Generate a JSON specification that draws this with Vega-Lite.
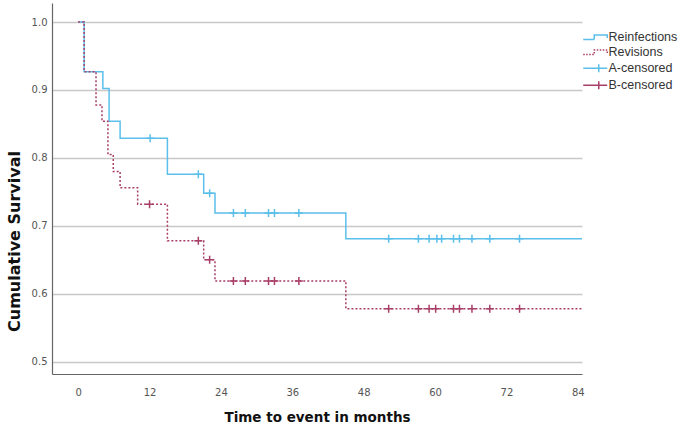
{
  "$schema": "https://vega.github.io/schema/vega-lite/v6.json",
  "width": 530,
  "height": 371,
  "autosize": {"type": "none"},
  "padding": {"left": 52, "top": 3, "right": 103, "bottom": 55},
  "background": "white",
  "config": {"view": {"stroke": null}},
  "datasets": {
    "lines": [
      {"key": "Reinfections", "month": 0, "surv": 1.0},
      {"key": "Reinfections", "month": 1, "surv": 0.927},
      {"key": "Reinfections", "month": 4.15, "surv": 0.902},
      {"key": "Reinfections", "month": 5.2, "surv": 0.854},
      {"key": "Reinfections", "month": 7.05, "surv": 0.829},
      {"key": "Reinfections", "month": 15.0, "surv": 0.776},
      {"key": "Reinfections", "month": 21.1, "surv": 0.748},
      {"key": "Reinfections", "month": 23.0, "surv": 0.719},
      {"key": "Reinfections", "month": 45.0, "surv": 0.681},
      {"key": "Reinfections", "month": 84.7, "surv": 0.681},
      {"key": "Revisions", "month": 0, "surv": 1.0},
      {"key": "Revisions", "month": 1, "surv": 0.927},
      {"key": "Revisions", "month": 3.0, "surv": 0.878},
      {"key": "Revisions", "month": 4.0, "surv": 0.854},
      {"key": "Revisions", "month": 5.0, "surv": 0.805},
      {"key": "Revisions", "month": 5.9, "surv": 0.78},
      {"key": "Revisions", "month": 7.05, "surv": 0.756},
      {"key": "Revisions", "month": 10.0, "surv": 0.732},
      {"key": "Revisions", "month": 15.0, "surv": 0.678},
      {"key": "Revisions", "month": 21.1, "surv": 0.65},
      {"key": "Revisions", "month": 23.0, "surv": 0.619},
      {"key": "Revisions", "month": 45.0, "surv": 0.578},
      {"key": "Revisions", "month": 84.7, "surv": 0.578}
    ],
    "censored": [
      {"key": "A-censored", "month": 12.1, "surv": 0.829},
      {"key": "A-censored", "month": 20.2, "surv": 0.776},
      {"key": "A-censored", "month": 22.1, "surv": 0.748},
      {"key": "A-censored", "month": 26.1, "surv": 0.719},
      {"key": "A-censored", "month": 28.1, "surv": 0.719},
      {"key": "A-censored", "month": 32.0, "surv": 0.719},
      {"key": "A-censored", "month": 33.0, "surv": 0.719},
      {"key": "A-censored", "month": 37.1, "surv": 0.719},
      {"key": "A-censored", "month": 52.2, "surv": 0.681},
      {"key": "A-censored", "month": 57.2, "surv": 0.681},
      {"key": "A-censored", "month": 59.0, "surv": 0.681},
      {"key": "A-censored", "month": 60.3, "surv": 0.681},
      {"key": "A-censored", "month": 61.1, "surv": 0.681},
      {"key": "A-censored", "month": 63.1, "surv": 0.681},
      {"key": "A-censored", "month": 64.1, "surv": 0.681},
      {"key": "A-censored", "month": 66.2, "surv": 0.681},
      {"key": "A-censored", "month": 69.2, "surv": 0.681},
      {"key": "A-censored", "month": 74.2, "surv": 0.681},
      {"key": "B-censored", "month": 12.0, "surv": 0.732},
      {"key": "B-censored", "month": 20.2, "surv": 0.678},
      {"key": "B-censored", "month": 22.1, "surv": 0.65},
      {"key": "B-censored", "month": 26.1, "surv": 0.619},
      {"key": "B-censored", "month": 28.1, "surv": 0.619},
      {"key": "B-censored", "month": 32.0, "surv": 0.619},
      {"key": "B-censored", "month": 33.0, "surv": 0.619},
      {"key": "B-censored", "month": 37.1, "surv": 0.619},
      {"key": "B-censored", "month": 52.2, "surv": 0.578},
      {"key": "B-censored", "month": 57.2, "surv": 0.578},
      {"key": "B-censored", "month": 59.0, "surv": 0.578},
      {"key": "B-censored", "month": 60.1, "surv": 0.578},
      {"key": "B-censored", "month": 63.1, "surv": 0.578},
      {"key": "B-censored", "month": 64.1, "surv": 0.578},
      {"key": "B-censored", "month": 66.2, "surv": 0.578},
      {"key": "B-censored", "month": 69.2, "surv": 0.578},
      {"key": "B-censored", "month": 74.2, "surv": 0.578}
    ]
  },
  "encoding": {
    "x": {
      "field": "month", "type": "quantitative",
      "scale": {"domain": [-4.4, 84.7], "nice": false, "zero": false},
      "axis": {
        "values": [0, 12, 24, 36, 48, 60, 72, 84],
        "title": "Time to event in months",
        "grid": false, "ticks": false, "tickSize": 0,
        "domainColor": "#666666", "domainWidth": 1.2,
        "labelFont": "DejaVu Sans", "labelFontSize": 10, "labelColor": "#555555",
        "labelPadding": 13,
        "titleFont": "DejaVu Sans", "titleFontSize": 13.5, "titleFontWeight": "bold", "titleColor": "#111111",
        "titleY": 43, "titleBaseline": "middle"
      }
    },
    "y": {
      "field": "surv", "type": "quantitative",
      "scale": {"domain": [0.482, 1.028], "nice": false, "zero": false},
      "axis": {
        "values": [0.5, 0.6, 0.7, 0.8, 0.9, 1.0],
        "format": ".1f",
        "title": "Cumulative Survival",
        "grid": true, "gridColor": "#c8c8c8", "gridWidth": 1.5,
        "ticks": false, "tickSize": 0,
        "domainColor": "#666666", "domainWidth": 1.2,
        "labelFont": "DejaVu Sans", "labelFontSize": 10, "labelColor": "#555555",
        "labelPadding": 5,
        "titleFont": "DejaVu Sans", "titleFontSize": 16, "titleFontWeight": "bold", "titleColor": "#111111",
        "titleX": -38, "titleY": 238, "titleAngle": -90, "titleAlign": "center", "titleBaseline": "middle"
      }
    },
    "color": {
      "field": "key", "type": "nominal",
      "scale": {
        "domain": ["Reinfections", "Revisions", "A-censored", "B-censored"],
        "range": ["#5bbfea", "#a83f68", "#5bbfea", "#a83f68"]
      },
      "legend": {
        "title": null,
        "orient": "none", "legendX": 537, "legendY": 28,
        "padding": 0,
        "symbolSize": 100, "symbolStrokeWidth": 1.5,
        "labelFont": "Liberation Sans", "labelFontSize": 12.5, "labelColor": "#333333",
        "labelOffset": 7, "rowPadding": 2,
        "encode": {
          "symbols": {
            "update": {
              "shape": {"signal": "(datum.value == 'A-censored' || datum.value == 'B-censored') ? 'M-2.4,0L2.4,0M0.7,-0.8L0.7,0.8' : 'M-2.4,0.45L-0.2,0.45L-0.2,-0.45L2.4,-0.45L2.4,0.15'"},
              "strokeDash": {"signal": "datum.value == 'Revisions' ? [1.5, 1.5] : [1, 0]"},
              "fill": {"value": "transparent"},
              "strokeWidth": {"value": 1.5}
            }
          }
        }
      }
    }
  },
  "layer": [
    {
      "data": {"name": "lines"},
      "mark": {"type": "line", "interpolate": "step-after", "strokeWidth": 1.5, "clip": true},
      "encoding": {
        "strokeDash": {
          "field": "key", "type": "nominal",
          "scale": {"domain": ["Reinfections", "Revisions"], "range": [[1, 0], [2, 2]]},
          "legend": null
        }
      }
    },
    {
      "data": {"name": "censored"},
      "mark": {"type": "point", "shape": "M-1,0L1,0M0,-1L0,1", "size": 64, "filled": false, "strokeWidth": 1.5, "opacity": 1}
    }
  ]
}
